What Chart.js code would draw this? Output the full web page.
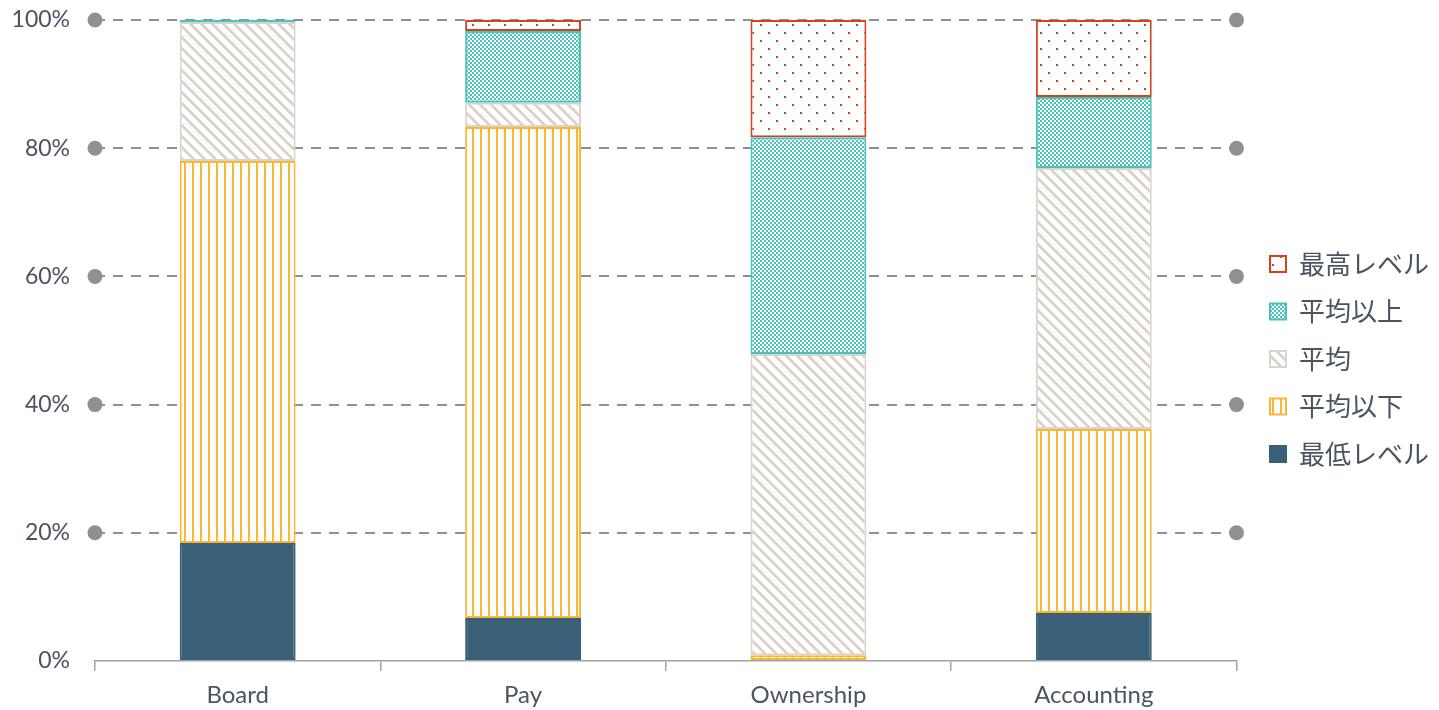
<!DOCTYPE html>
<html>
<head>
<meta charset="utf-8">
<script src="https://cdn.jsdelivr.net/npm/chart.js@4.4.1/dist/chart.umd.min.js"></script>
<style>
  html, body { margin: 0; padding: 0; background: #fff; }
  #wrap { position: relative; width: 1439px; height: 710px; }
</style>
</head>
<body>
<div id="wrap"><canvas id="chart"></canvas></div>
<script>
// data (percent of each category)
const categories = ['Board', 'Pay', 'Ownership', 'Accounting'];
const lowest = [18.4, 6.7, 0, 7.5];        // 最低レベル
const belowAvg = [59.6, 76.6, 0.9, 28.7];  // 平均以下
const average = [21.7, 3.8, 47.0, 40.7];   // 平均
const aboveAvg = [0.3, 11.2, 33.8, 11.1];  // 平均以上
const highest = [0, 1.7, 18.3, 12.0];      // 最高レベル
const yTicks = [0, 20, 40, 60, 80, 100];

const RED = '#d4441c';
const TEAL = '#4bc2ba';
const BEIGE = '#dbd4cc';
const ORANGE = '#fbb733';
const NAVY = '#3a6079';
const GREY = '#8e9194';
const TEXT = '#4a5560';

function makePattern(size, draw) {
    const c = document.createElement('canvas');
    c.width = size; c.height = size;
    const g = c.getContext('2d');
    g.fillStyle = '#fff';
    g.fillRect(0, 0, size, size);
    draw(g);
    return g.createPattern(c, 'repeat');
}

const dotPattern = makePattern(16, g => {
    g.fillStyle = RED;
    g.fillRect(0, 0, 2, 2);
    g.fillRect(8, 8, 2, 2);
});
const checkPattern = makePattern(4, g => {
    g.fillStyle = TEAL;
    g.fillRect(0, 0, 2, 2);
    g.fillRect(2, 2, 2, 2);
});
const diagPattern = makePattern(11, g => {
    g.fillStyle = BEIGE;
    for (let y = 0; y < 11; y++) {
        for (let x = 0; x < 11; x++) {
            if (((x - y) % 11 + 11) % 11 < 4) g.fillRect(x, y, 1, 1);
        }
    }
});
const stripePattern = makePattern(8, g => {
    g.fillStyle = ORANGE;
    g.fillRect(0, 0, 2, 8);
});

// grey dots at both ends of each dashed gridline
const gridDots = {
    id: 'gridDots',
    beforeDatasetsDraw(chart) {
        const { ctx, chartArea, scales } = chart;
        ctx.save();
        ctx.fillStyle = GREY;
        scales.y.ticks.forEach(t => {
            if (t.value === 0) return;
            const y = scales.y.getPixelForValue(t.value);
            [chartArea.left, chartArea.right].forEach(x => {
                ctx.beginPath();
                ctx.arc(x, y, 7.5, 0, Math.PI * 2);
                ctx.fill();
            });
        });
        ctx.restore();
    }
};

const barOpts = { borderWidth: 2, borderSkipped: false, barPercentage: 0.406, categoryPercentage: 1 };

new Chart(document.getElementById('chart'), {
    type: 'bar',
    data: {
        labels: categories,
        datasets: [
            { label: '最低レベル', data: lowest, backgroundColor: NAVY, borderColor: NAVY, ...barOpts },
            { label: '平均以下', data: belowAvg, backgroundColor: stripePattern, borderColor: ORANGE, ...barOpts },
            { label: '平均', data: average, backgroundColor: diagPattern, borderColor: BEIGE, ...barOpts },
            { label: '平均以上', data: aboveAvg, backgroundColor: checkPattern, borderColor: TEAL, ...barOpts },
            { label: '最高レベル', data: highest, backgroundColor: dotPattern, borderColor: RED, ...barOpts }
        ]
    },
    options: {
        responsive: true,
        maintainAspectRatio: false,
        animation: false,
        layout: { padding: { top: 8, left: 0, right: 0, bottom: 0 } },
        plugins: {
            tooltip: { enabled: false },
            legend: {
                position: 'right',
                reverse: true,
                labels: {
                    boxWidth: 16,
                    boxHeight: 16,
                    padding: 21.5,
                    color: TEXT,
                    font: { family: '"Noto Sans CJK JP", "Noto Sans", sans-serif', size: 26 }
                }
            }
        },
        scales: {
            x: {
                stacked: true,
                afterFit(axis) { axis.height = 49; },
                grid: { display: true, drawOnChartArea: false, drawTicks: true, tickLength: 10, color: '#a0a3a6', lineWidth: 1.5 },
                border: { display: true, color: '#a0a3a6', width: 1.5 },
                ticks: { color: TEXT, padding: 10, font: { family: 'Lato, "Open Sans", sans-serif', size: 24 } }
            },
            y: {
                stacked: true,
                min: 0,
                max: 100,
                afterFit(axis) {
                    axis.width = 95;
                    axis.paddingTop = 20;
                    axis.paddingBottom = 0;
                },
                afterBuildTicks(axis) { axis.ticks = yTicks.map(v => ({ value: v })); },
                grid: {
                    drawTicks: false,
                    color: ctx => ctx.tick && ctx.tick.value === 0 ? 'rgba(0,0,0,0)' : GREY,
                    lineWidth: 2
                },
                border: { display: false, dash: [10, 8] },
                ticks: {
                    color: TEXT,
                    padding: 25,
                    font: { family: 'Lato, "Open Sans", sans-serif', size: 23 },
                    callback: v => v + '%'
                }
            },
            // empty right-hand axis: only keeps a gap between plot and legend
            gap: {
                type: 'linear',
                position: 'right',
                afterFit(axis) {
                    axis.width = 12;
                    axis.paddingTop = 0;
                    axis.paddingBottom = 0;
                },
                grid: { display: false },
                border: { display: false },
                ticks: { display: false }
            }
        }
    },
    plugins: [gridDots]
});
</script>
</body>
</html>
